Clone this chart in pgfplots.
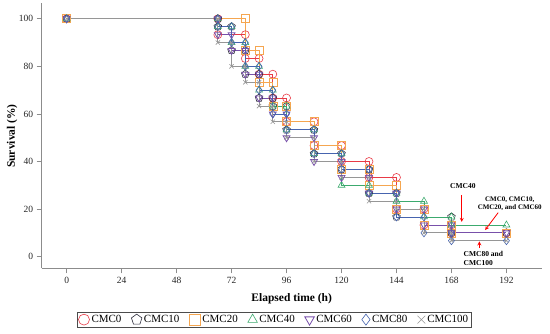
\documentclass[border=0pt]{standalone}
\usepackage{fontspec}
\setmainfont{Liberation Serif}
\usepackage{pgfplots}
\pgfplotsset{compat=1.18}
\definecolor{cR}{RGB}{232,58,70}
\definecolor{cK}{RGB}{45,45,60}
\definecolor{cO}{RGB}{245,166,80}
\definecolor{cG}{RGB}{60,170,110}
\definecolor{cP}{RGB}{120,80,170}
\definecolor{cB}{RGB}{70,100,175}
\definecolor{cX}{RGB}{150,150,150}
\definecolor{axg}{RGB}{140,140,140}
\begin{document}
\begin{tikzpicture}
\begin{axis}[
  at={(41.7pt,-268.3pt)}, anchor=south west,
  scale only axis, width=500pt, height=265pt,
  xmin=-10.9, xmax=207.4, ymin=-4.9, ymax=106.5,
  axis x line*=bottom, axis y line*=left,
  axis line style={axg, line width=0.6pt},
  xtick={0,24,...,192}, ytick={0,20,...,100},
  tick align=outside, major tick length=5pt,
  tick style={axg, line width=0.6pt},
  ticklabel style={font=\fontsize{9.5}{11}\selectfont, text=black!85},
  /pgf/number format/assume math mode=true,
  xlabel={\textbf{Elapsed time (h)}},
  ylabel={\textbf{Survival (\%)}},
  label style={font=\fontsize{11.5}{13}\selectfont},
  xlabel style={at={(axis description cs:0.5,-0.113)}, anchor=center},
  ylabel style={at={(axis description cs:-0.0594,0.4992)}, anchor=center, rotate=0},
  every axis plot/.append style={line width=0.8pt, mark size=4pt, mark options={solid, fill=none, line width=0.6pt}},
  legend columns=7,
  legend style={at={(axis description cs:0.0706,-0.1638)}, anchor=north west,
    draw=black!70, line width=0.6pt, font=\fontsize{11}{12}\selectfont,
    inner sep=1.2pt,
    /tikz/every odd column/.append style={column sep=0pt},
    /tikz/every even column/.append style={column sep=8pt}},
  legend image code/.code={\draw[only marks, mark size=5.5pt] plot coordinates {(0.2cm,0cm)};},
]
% CMC0
\addplot[cR, mark=o] coordinates {(0,100)(66,100)(66,93.3)(78,93.3)(78,83.3)(84,83.3)(84,76.7)(90,76.7)(90,66.7)(96,66.7)(96,56.7)(108,56.7)(108,46.7)(120,46.7)(120,40)(132,40)(132,33.3)(144,33.3)(144,20)(156,20)(156,13.3)(168,13.3)(168,10)(192,10)};
\addlegendentry{CMC0}
% CMC10
\addplot[cK, mark=pentagon] coordinates {(0,100)(66,100)(66,96.7)(72,96.7)(72,86.7)(78,86.7)(78,76.7)(84,76.7)(84,66.7)(90,66.7)(90,63.3)(96,63.3)(96,53.3)(108,53.3)(108,43.3)(120,43.3)(120,36.7)(132,36.7)(132,26.7)(144,26.7)(144,16.7)(168,16.7)(168,10)(192,10)};
\addlegendentry{CMC10}
% CMC20
\addplot[cO, mark=square] coordinates {(0,100)(78,100)(78,86.7)(84,86.7)(84,73.3)(90,73.3)(90,63.3)(96,63.3)(96,56.7)(108,56.7)(108,46.7)(120,46.7)(120,36.7)(132,36.7)(132,30)(144,30)(144,20)(156,20)(156,13.3)(168,13.3)(168,10)(192,10)};
\addlegendentry{CMC20}
% CMC40
\addplot[cG, mark=triangle] coordinates {(0,100)(66,100)(66,96.7)(72,96.7)(72,90)(78,90)(78,80)(84,80)(84,70)(90,70)(90,63.3)(96,63.3)(96,53.3)(108,53.3)(108,43.3)(120,43.3)(120,30)(132,30)(132,26.7)(144,26.7)(144,23.3)(156,23.3)(156,16.7)(168,16.7)(168,13.3)(192,13.3)};
\addlegendentry{CMC40}
% CMC60
\addplot[cP, mark=triangle, mark options={rotate=180}] coordinates {(0,100)(66,100)(66,93.3)(72,93.3)(72,86.7)(78,86.7)(78,76.7)(84,76.7)(84,66.7)(90,66.7)(90,60)(96,60)(96,50)(108,50)(108,40)(120,40)(120,33.3)(132,33.3)(132,26.7)(144,26.7)(144,20)(156,20)(156,13.3)(168,13.3)(168,10)(192,10)};
\addlegendentry{CMC60}
% CMC80
\addplot[cB, mark=diamond] coordinates {(0,100)(66,100)(66,96.7)(72,96.7)(72,90)(78,90)(78,80)(84,80)(84,70)(90,70)(90,60)(96,60)(96,53.3)(108,53.3)(108,43.3)(120,43.3)(120,36.7)(132,36.7)(132,26.7)(144,26.7)(144,16.7)(156,16.7)(156,10)(168,10)(168,6.7)(192,6.7)};
\addlegendentry{CMC80}
% CMC100
\addplot[cX, mark=x, mark size=3pt] coordinates {(0,100)(66,100)(66,90)(72,90)(72,80)(78,80)(78,73.3)(84,73.3)(84,63.3)(90,63.3)(90,56.7)(96,56.7)(96,50)(108,50)(108,40)(120,40)(120,33.3)(132,33.3)(132,23.3)(144,23.3)(144,20)(156,20)(156,10)(168,10)(168,6.7)(192,6.7)};
\addlegendentry{CMC100}
% annotations
\node[font=\bfseries\fontsize{7.5}{9}\selectfont] at (axis cs:173,29.7) {CMC40};
\draw[-stealth, red, line width=0.8pt] (axis cs:172.5,25.9) -- (axis cs:172.5,14.6);
\node[font=\bfseries\fontsize{7}{8.5}\selectfont, align=center, anchor=east, inner sep=0pt] at (axis cs:207.5,22.3) {CMC0, CMC10,\\CMC20, and CMC60};
\draw[-stealth, red, line width=0.8pt] (axis cs:188.4,18.5) -- (axis cs:182.7,11.2);
\node[font=\bfseries\fontsize{7.5}{9}\selectfont, align=left, anchor=west] at (axis cs:171.8,-0.7) {CMC80 and\\CMC100};
\draw[-stealth, red, line width=0.8pt] (axis cs:180.2,3.6) -- (axis cs:180.2,6.4);
\end{axis}
\pgfresetboundingbox
\path[use as bounding box] (0,0) rectangle (550pt,-333pt);
\end{tikzpicture}
\end{document}
